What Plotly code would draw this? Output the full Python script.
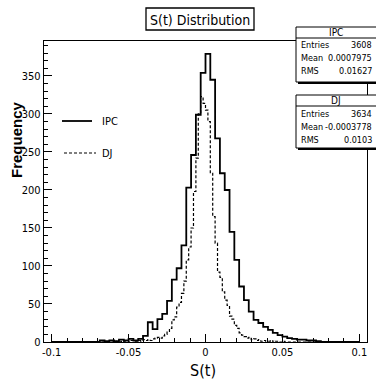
import plotly.graph_objects as go

# ---------------- data ----------------
x_lo, x_hi = -0.1, 0.1          # histogram range
ipc_counts = [0, 0, 0, 0, 0, 0, 0, 0, 0, 0,
              2, 1, 2, 1, 3, 2, 4, 2, 4, 8,
              26, 17, 30, 37, 54, 82, 97, 127, 203, 246,
              299, 354, 379, 345, 268, 222, 200, 145, 108, 73,
              55, 40, 29, 25, 20, 16, 12, 9, 7, 5,
              4, 3, 3, 2, 2, 1, 0, 0, 0, 0,
              0, 0, 0, 0]
dj_counts = ([0] * 24 +
             [0, 0, 1, 0, 1, 0, 1, 1, 0, 2, 1, 1, 2, 1, 3, 2] +
             [3, 2, 4, 5, 6, 5, 8, 10, 14, 18] +
             [29, 33, 46, 52, 64, 80, 108, 125, 150, 198] +
             [242, 300, 323, 314] +
             [305, 290, 222, 165, 130, 92, 85, 66, 55, 48, 34, 30, 22] +
             [18, 12, 9, 7, 5, 6, 3, 4, 2, 3, 1, 2, 1, 1, 2, 0, 1, 1, 0, 1] +
             [0] * 31)
series_names = ["IPC", "DJ"]
stat_labels = ["Entries", "Mean", "RMS"]
ipc_stats = ["3608", "0.0007975", "0.01627"]
dj_stats = ["3634", "-0.0003778", "0.0103"]
x_tick_vals = [-0.1, -0.05, 0, 0.05, 0.1]
x_tick_text = ["-0.1", "-0.05", "0", "0.05", "0.1"]
y_tick_vals = [0, 50, 100, 150, 200, 250, 300, 350]
y_tick_text = ["0", "50", "100", "150", "200", "250", "300", "350"]
title_text = "S(t) Distribution"
x_title = "S(t)"
y_title = "Frequency"

# ---------------- layout geometry ----------------
W, H = 376, 384
L, R, T, B = 44, 367, 41, 342
PW, PH = R - L, B - T


def xp(px):
    return (px - L) / PW


def yp(py):
    return (B - py) / PH


def step_xy(counts):
    n = len(counts)
    w = (x_hi - x_lo) / n
    xs = [x_lo + k * w for k in range(n + 1)]
    ys = list(counts) + [counts[-1]]
    return xs, ys


NARROW = "Liberation Sans Narrow, DejaVu Sans Condensed, Arial Narrow, sans-serif"

fig = go.Figure()
xi, yi = step_xy(ipc_counts)
fig.add_trace(go.Scatter(x=xi, y=yi, mode="lines", line_shape="hv",
                         line=dict(color="black", width=1.8), name=series_names[0],
                         showlegend=False, hoverinfo="skip"))
xd, yd = step_xy(dj_counts)
fig.add_trace(go.Scatter(x=xd, y=yd, mode="lines", line_shape="hv",
                         line=dict(color="black", width=1.2, dash="3px,2px"),
                         name=series_names[1], showlegend=False, hoverinfo="skip"))

shapes = []
annotations = []

# title box
shapes.append(dict(type="rect", xref="paper", yref="paper",
                   x0=xp(146), x1=xp(254), y0=yp(30), y1=yp(8),
                   line=dict(color="black", width=1.3), fillcolor="white", layer="above"))
annotations.append(dict(text=title_text, xref="paper", yref="paper", x=xp(200), y=yp(19.5),
                        xanchor="center", yanchor="middle", showarrow=False,
                        font=dict(family=NARROW, size=14, color="black")))

# legend (inside plot, no border)
leg_y = [121, 153]
leg_dash = ["solid", "3px,2px"]
leg_w = [1.8, 1.2]
leg_x = [(62, 92), (64, 96)]
for k, name in enumerate(series_names):
    shapes.append(dict(type="line", xref="paper", yref="paper",
                       x0=xp(leg_x[k][0]), x1=xp(leg_x[k][1]), y0=yp(leg_y[k]), y1=yp(leg_y[k]),
                       line=dict(color="black", width=leg_w[k], dash=leg_dash[k]), layer="above"))
    annotations.append(dict(text=name, xref="paper", yref="paper", x=xp(100), y=yp(leg_y[k] + 0.5),
                            xanchor="left", yanchor="middle", showarrow=False,
                            font=dict(family=NARROW, size=11, color="black")))

# stats boxes
boxes = [(series_names[0], ipc_stats, 27, 82, 38, 32.5, [45, 58, 71]),
         (series_names[1], dj_stats, 95, 148, 106, 100.5, [114, 127, 140])]
for name, vals, top, bot, div, hy, rows in boxes:
    shapes.append(dict(type="rect", xref="paper", yref="paper",
                       x0=xp(298), x1=xp(380), y0=yp(bot + 2), y1=yp(top + 2),
                       line=dict(color="black", width=0), fillcolor="black", layer="above"))
    shapes.append(dict(type="rect", xref="paper", yref="paper",
                       x0=xp(296), x1=xp(378), y0=yp(bot), y1=yp(top),
                       line=dict(color="black", width=1), fillcolor="white", layer="above"))
    shapes.append(dict(type="line", xref="paper", yref="paper",
                       x0=xp(296), x1=xp(378), y0=yp(div), y1=yp(div),
                       line=dict(color="black", width=1), layer="above"))
    annotations.append(dict(text=name, xref="paper", yref="paper", x=xp(336), y=yp(hy),
                            xanchor="center", yanchor="middle", showarrow=False,
                            font=dict(family=NARROW, size=10, color="black")))
    for lab, val, ry in zip(stat_labels, vals, rows):
        annotations.append(dict(text=lab, xref="paper", yref="paper", x=xp(299), y=yp(ry),
                                xanchor="left", yanchor="middle", showarrow=False,
                                font=dict(family=NARROW, size=9, color="black")))
        annotations.append(dict(text=val, xref="paper", yref="paper", x=xp(374), y=yp(ry),
                                xanchor="right", yanchor="middle", showarrow=False,
                                font=dict(family=NARROW, size=9, color="black")))

# axis titles
annotations.append(dict(text=x_title, xref="paper", yref="paper", x=xp(203), y=yp(370),
                        xanchor="center", yanchor="middle", showarrow=False,
                        font=dict(family=NARROW, size=16, color="black")))
annotations.append(dict(text="<b>%s</b>" % y_title, xref="paper", yref="paper", x=xp(16), y=yp(140),
                        xanchor="center", yanchor="middle", showarrow=False, textangle=-90,
                        font=dict(family="Liberation Sans, Arial, sans-serif", size=15, color="black")))

fig.update_layout(
    width=W, height=H,
    margin=dict(l=L, r=W - R, t=T, b=H - B, pad=0),
    paper_bgcolor="white", plot_bgcolor="white",
    shapes=shapes, annotations=annotations,
    showlegend=False,
    xaxis=dict(range=[-0.105, 0.105], tickmode="array", tickvals=x_tick_vals, ticktext=x_tick_text,
               ticks="inside", ticklen=8, tickwidth=1, tickcolor="black",
               minor=dict(dtick=0.01, tick0=0, ticks="inside", ticklen=4, tickwidth=1, tickcolor="black"),
               showline=True, linecolor="black", linewidth=1.3, mirror=True,
               showgrid=False, zeroline=False,
               tickfont=dict(family=NARROW, size=11, color="black")),
    yaxis=dict(range=[0, 396], tickmode="array", tickvals=y_tick_vals, ticktext=y_tick_text,
               ticks="inside", ticklen=8, tickwidth=1, tickcolor="black",
               minor=dict(dtick=10, tick0=0, ticks="inside", ticklen=4, tickwidth=1, tickcolor="black"),
               showline=True, linecolor="black", linewidth=1.3, mirror=True,
               showgrid=False, zeroline=False,
               tickfont=dict(family=NARROW, size=11, color="black")),
)

fig.write_html("out.html")
